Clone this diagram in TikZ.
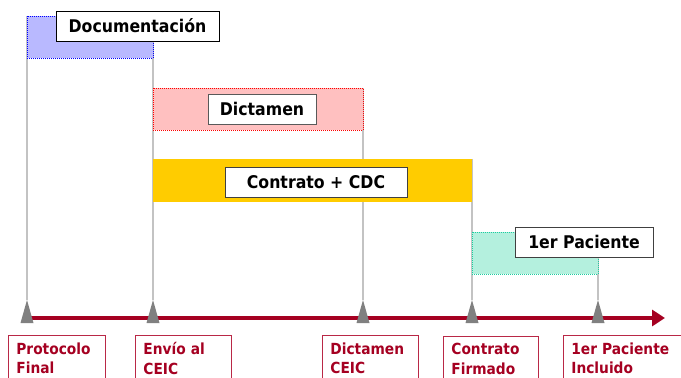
\documentclass[tikz,border=0pt]{standalone}
\usepackage{fontspec}
\setmainfont{DejaVu Sans}[FakeStretch=0.9]
\usetikzlibrary{arrows.meta}
\definecolor{tlred}{RGB}{165,0,33}
\definecolor{msborder}{RGB}{185,40,70}
\definecolor{bluefill}{RGB}{185,185,255}
\definecolor{redfill}{RGB}{255,192,192}
\definecolor{tealfill}{RGB}{180,240,222}
\definecolor{tealline}{RGB}{30,205,160}
\definecolor{gold}{RGB}{255,204,0}
\definecolor{vgray}{RGB}{195,195,195}
\definecolor{trigray}{RGB}{128,128,128}
\tikzset{
  bar/.style={anchor=north west, inner sep=0pt, outer sep=0pt},
  dotborder/.style={line width=1pt, dash pattern=on 1pt off 1pt},
  lbl/.style={draw, fill=white, line width=1pt, inner sep=0pt, outer sep=0pt,
    font=\fontsize{17.5}{20}\selectfont\bfseries, text=black},
  vline/.style={draw=vgray, line width=1.5pt},
  tline/.style={draw=tlred, line width=4.5pt, -{Triangle[length=13pt,width=16pt]}},
  tri/.style={fill=trigray},
  ms/.style={draw=msborder, line width=0.8pt, anchor=north west, align=left,
    inner xsep=8pt, inner ysep=7pt, text=tlred,
    font=\fontsize{15.3}{19.5}\selectfont\bfseries}
}
\begin{document}
\begin{tikzpicture}[x=1pt,y=-1pt]
\useasboundingbox (0,0) rectangle (681,378);
\clip (0,0) rectangle (681,378);
% triangle apex points
\coordinate (t1) at (27,300);
\coordinate (t2) at (153,300);
\coordinate (t3) at (363,300);
\coordinate (t4) at (472,300);
\coordinate (t5) at (598,300);
% vertical guide lines
\coordinate (v1) at (27,16);
\coordinate (v2) at (153,16);
\coordinate (v3) at (363,88);
\coordinate (v4) at (472,159);
\coordinate (v5) at (598,232);
\draw[vline] (v1) -- (t1);
\draw[vline] (v2) -- (t2);
\draw[vline] (v3) -- (t3);
\draw[vline] (v4) -- (t4);
\draw[vline] (v5) -- (t5);
% bars
\node[bar, fill=bluefill, draw=blue, dotborder, minimum width=126pt, minimum height=42pt] (docbar) at (27,16) {};
\node[bar, fill=redfill, draw=red, dotborder, minimum width=210pt, minimum height=42pt] (dicbar) at (153,88) {};
\node[bar, fill=gold, minimum width=319pt, minimum height=43pt] (conbar) at (153,159) {};
\node[bar, fill=tealfill, draw=tealline, dotborder, minimum width=126pt, minimum height=42pt] (pacbar) at (472,232) {};
% labels
\node[lbl, draw=black, minimum width=163pt, minimum height=30pt] (doclbl) at (137.5,26) {Documentación};
\node[lbl, draw=black!65, minimum width=108pt, minimum height=30pt] (diclbl) at (262,109) {Dictamen};
\node[lbl, draw=black!75, minimum width=182pt, minimum height=30pt] (conlbl) at (316,182) {Contrato + CDC};
\node[lbl, draw=black!75, minimum width=138pt, minimum height=30pt] (paclbl) at (584,242) {1er Paciente};
% timeline
\coordinate (ls) at (27,318);
\coordinate (le) at (665,318);
\draw[tline] (ls) -- (le);
% triangles
\foreach \t in {t1,t2,t3,t4,t5}{
  \fill[tri] (\t) -- ++(-6.5,23) -- ++(13,0) -- cycle;
}
% milestone boxes
\node[ms, text width=81pt] (m1) at (8,335) {Protocolo\\Final};
\node[ms, text width=80pt] (m2) at (135,335) {Envío al\\CEIC};
\node[ms, text width=80pt] (m3) at (322,335) {Dictamen\\CEIC};
\node[ms, text width=79pt] (m4) at (443,336) {Contrato\\Firmado};
\node[ms, text width=112pt] (m5) at (563,335) {1er Paciente\\Incluido};
\end{tikzpicture}
\end{document}
